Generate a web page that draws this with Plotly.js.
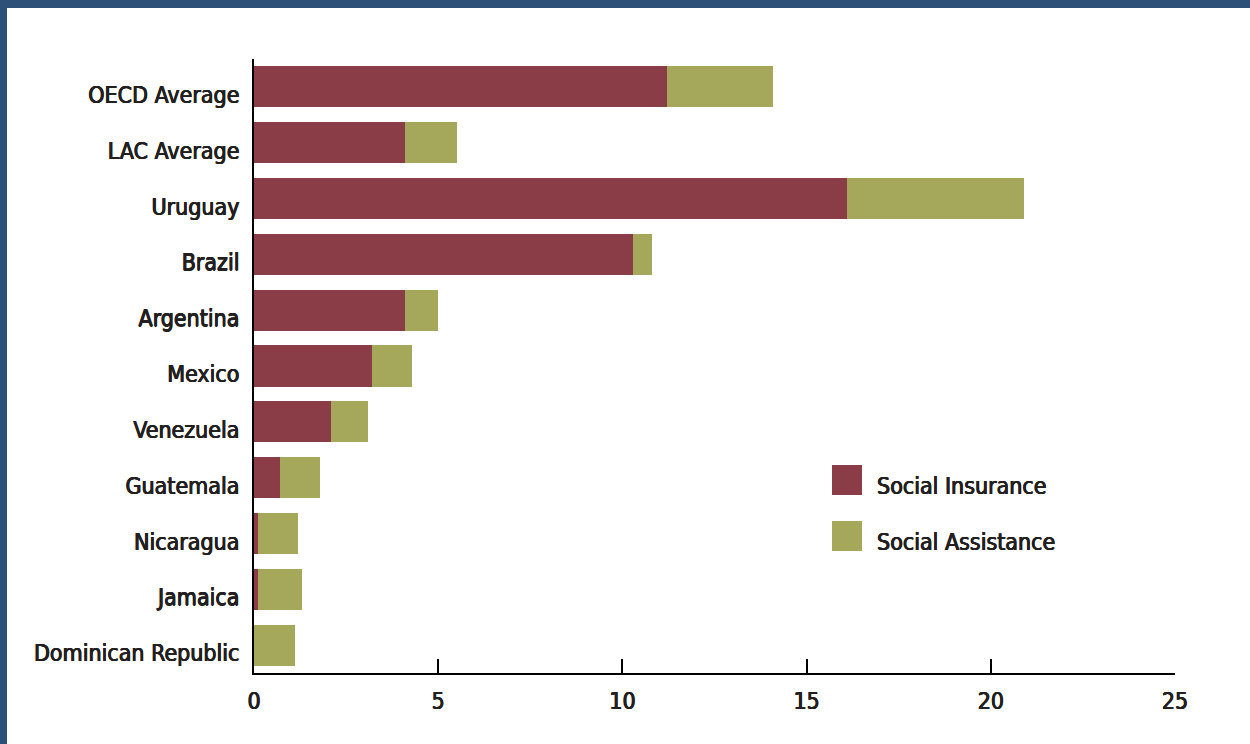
<!DOCTYPE html>
<html>
<head>
<meta charset="utf-8">
<script src="https://cdn.plot.ly/plotly-3.0.1.min.js"></script>
<style>
  html, body { margin: 0; padding: 0; background: #ffffff; }
  #wrap { position: relative; width: 1250px; height: 744px; overflow: hidden; }
  #chart { position: absolute; left: 0; top: 0; width: 1250px; height: 744px; }
  .band-top { position: absolute; left: 0; top: 0; width: 1250px; height: 8px; background: #2c5078; }
  .band-left { position: absolute; left: 0; top: 0; width: 7px; height: 744px; background: #2c5078; }
</style>
</head>
<body>
<div id="wrap">
  <div id="chart"></div>
  <div class="band-top"></div>
  <div class="band-left"></div>
</div>
<script>
const categories = ["OECD Average", "LAC Average", "Uruguay", "Brazil", "Argentina", "Mexico",
                    "Venezuela", "Guatemala", "Nicaragua", "Jamaica", "Dominican Republic"];
const socialInsurance = [11.2, 4.1, 16.1, 10.3, 4.1, 3.2, 2.1, 0.7, 0.1, 0.1, 0.0];
const socialAssistance = [2.9, 1.4, 4.8, 0.5, 0.9, 1.1, 1.0, 1.1, 1.1, 1.2, 1.1];
const seriesNames = ["Social Insurance", "Social Assistance"];
const seriesColors = ["#8a3d46", "#a5a75a"];
const xTicks = [0, 5, 10, 15, 20, 25];

const TXT = "#231f20";
const BASEFONT = {
  family: "'Liberation Sans Narrow', 'DejaVu Sans Condensed', 'Roboto', sans-serif",
  size: 23,
  weight: "normal",
  color: TXT,
  shadow: "0.5px 0 0 #231f20, -0.4px 0 0 #231f20, 0 0.3px 0 #231f20"
};

const traces = [socialInsurance, socialAssistance].map((vals, i) => ({
  type: "bar",
  orientation: "h",
  name: seriesNames[i],
  x: vals,
  y: categories,
  marker: { color: seriesColors[i], line: { width: 0 } },
  hoverinfo: "x+y+name",
  showlegend: false
}));

// custom legend: large square swatches drawn as shapes, names as annotations
const legendShapes = seriesNames.map((n, i) => ({
  type: "rect", xref: "paper", yref: "paper",
  x0: (832 - 254) / 921, x1: (862 - 254) / 921,
  y0: (673 - (495 + i * 56)) / 614, y1: (673 - (465 + i * 56)) / 614,
  fillcolor: seriesColors[i], line: { width: 0 }
}));
const legendText = seriesNames.map((n, i) => ({
  xref: "paper", yref: "paper",
  x: (875 - 254) / 921, y: (673 - (486 + i * 56)) / 614,
  xanchor: "left", yanchor: "middle",
  text: n, showarrow: false,
  font: BASEFONT
}));

const layout = {
  width: 1250, height: 744,
  margin: { l: 254, r: 75, t: 59, b: 71 },
  paper_bgcolor: "#ffffff",
  plot_bgcolor: "#ffffff",
  barmode: "stack",
  bargap: 0.265,
  showlegend: false,
  font: BASEFONT,
  xaxis: {
    range: [0, 25],
    tickvals: xTicks,
    ticktext: xTicks.map(String),
    showgrid: false, zeroline: false,
    showline: true, linecolor: "#000000", linewidth: 2,
    ticks: "inside", ticklen: 14, tickwidth: 2, tickcolor: "#000000",
    ticklabelstandoff: 6,
    tickfont: BASEFONT,
    fixedrange: true
  },
  yaxis: {
    type: "category",
    categoryorder: "array",
    categoryarray: categories,
    range: [10.5, -0.5],
    showgrid: false, zeroline: false,
    showline: true, linecolor: "#000000", linewidth: 2,
    ticks: "",
    ticklabelstandoff: 8,
    ticklabelshift: -8,
    tickfont: BASEFONT,
    fixedrange: true
  },
  shapes: legendShapes,
  annotations: legendText
};

Plotly.newPlot("chart", traces, layout, { displayModeBar: false, staticPlot: true });
</script>
</body>
</html>
